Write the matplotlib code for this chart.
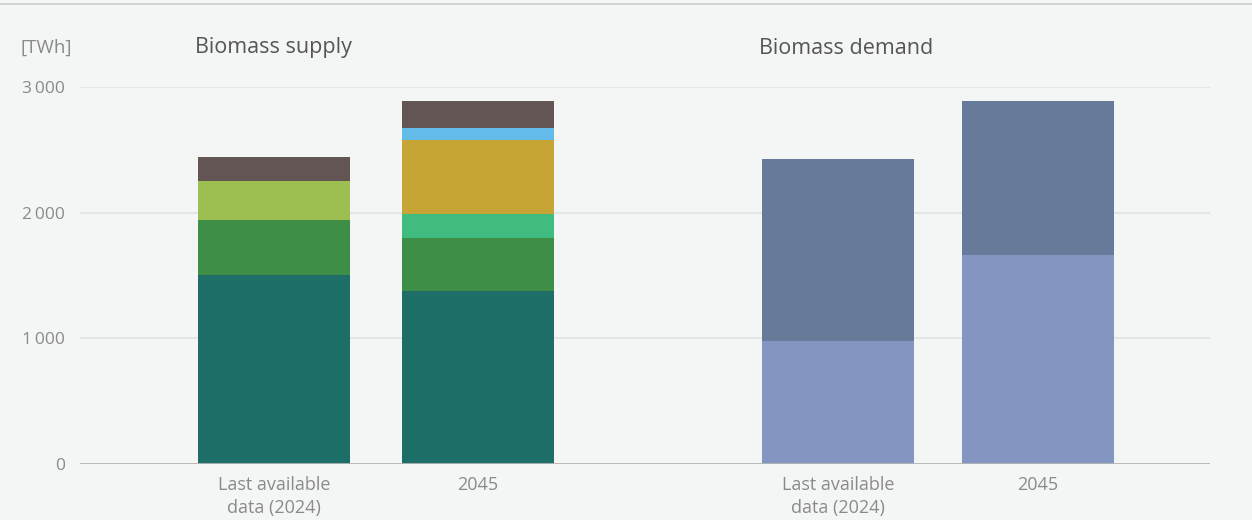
import matplotlib
matplotlib.use("Agg")
import matplotlib.pyplot as plt
from matplotlib.lines import Line2D

# ---- data ----
categories = ["Last available\ndata (2024)", "2045"]
supply_teal = [1504, 1376]
supply_green = [437, 422]
supply_mint = [0, 191]
supply_lime = [310, 0]
supply_gold = [0, 589]
supply_blue = [0, 95]
supply_brown = [191, 215]
demand_light = [978, 1663]
demand_dark = [1448, 1225]
yticks = [0, 1000, 2000, 3000]
ytick_labels = ["0", "1\u2009000", "2\u2009000", "3\u2009000"]

BG = "#f4f6f5"
plt.rcParams['font.family'] = ['Open Sans', 'DejaVu Sans']

fig = plt.figure(figsize=(12.52, 5.2), dpi=100, facecolor=BG)
W, H = 1252, 520
ax = fig.add_axes([80 / W, 1 - 464 / H, 1130 / W, (464 - 87) / H])
ax.set_facecolor(BG)
ax.set_xlim(0, 11.3)
ax.set_ylim(0, 3000)

sup_x = [1.94, 3.98]
dem_x = [7.58, 9.58]
bw = 1.52

bottom = [0, 0]
for vals, col in [(supply_teal, "#1e6e68"), (supply_green, "#3e8e48"),
                  (supply_mint, "#40bc80"), (supply_lime, "#9dbf52"),
                  (supply_gold, "#c6a535"), (supply_blue, "#62bbe8"),
                  (supply_brown, "#645555")]:
    ax.bar(sup_x, vals, bw, bottom=bottom, color=col, zorder=3, linewidth=0)
    bottom = [b + v for b, v in zip(bottom, vals)]

ax.bar(dem_x, demand_light, bw, color="#8396c2", zorder=3, linewidth=0)
ax.bar(dem_x, demand_dark, bw, bottom=demand_light, color="#667a99", zorder=3, linewidth=0)

for y in yticks[1:]:
    ax.axhline(y, color="#e4e6e6", lw=1.5, zorder=1)
ax.axhline(0, color="#b4b6b6", lw=1.3, zorder=4)

for s in ax.spines.values():
    s.set_visible(False)
ax.set_yticks(yticks)
ax.set_yticklabels(ytick_labels, fontsize=12.5, color="#8a8a8a")
ax.tick_params(axis='y', length=0, pad=11)
ax.set_xticks(sup_x + dem_x)
ax.set_xticklabels(categories + categories, fontsize=13, color="#8a8a8a", linespacing=1.3)
ax.tick_params(axis='x', length=0, pad=9)

fig.text(20 / W, 1 - 48 / H, "[TWh]", fontsize=13.5, color="#8a8a8a", va="center", ha="left")
fig.text(195 / W, 1 - 48 / H, "Biomass supply", fontsize=15.5, color="#555555", va="center", ha="left")
fig.text(759 / W, 1 - 48 / H, "Biomass demand", fontsize=15.5, color="#555555", va="center", ha="left")

fig.add_artist(Line2D([0, 1], [1 - 4 / H, 1 - 4 / H], color="#cccccc", lw=1.2, transform=fig.transFigure))

fig.savefig("out.png", dpi=100, facecolor=BG)
